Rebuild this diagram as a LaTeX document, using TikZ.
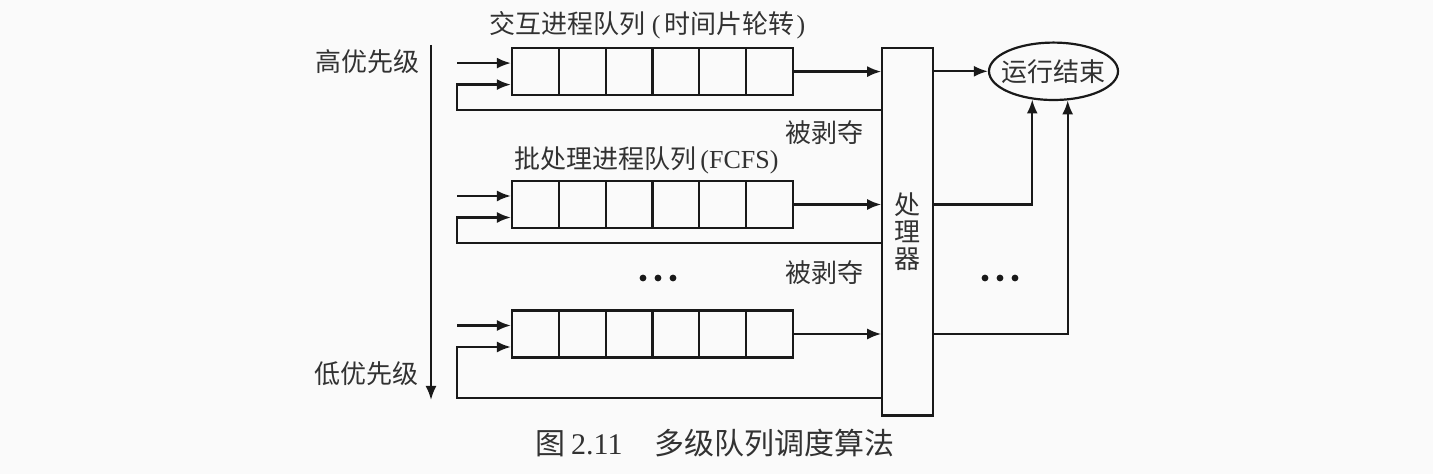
\documentclass[tikz,border=0pt]{standalone}
\usepackage{fontspec}
\setmainfont{Noto Sans CJK SC}
\newfontfamily\lat{Liberation Serif}
\usetikzlibrary{shapes.geometric, arrows.meta, positioning, calc}
\definecolor{ink1}{RGB}{25, 25, 25}
\definecolor{text1}{RGB}{50, 50, 50}
\definecolor{paper1}{RGB}{250, 250, 250}

\begin{document}
\begin{tikzpicture}[x=0.5pt, y=-0.5pt, line width=1.1pt, color=ink1,
  lbl/.style={text=text1, font=\fontsize{13pt}{13.5pt}\selectfont, inner sep=0pt},
  cell/.style={draw, minimum width=23.4pt, minimum height=23.5pt, inner sep=0pt},
  arr/.style={-{Latex[length=7pt, width=5.5pt]}}]

  \fill[paper1] (0,0) rectangle (1433,474);
  \useasboundingbox (0,0) rectangle (1433,474);

  % priority axis
  \coordinate (hi) at (431,45);
  \coordinate (lo) at (431,400);
  \draw[arr] (hi) -- (lo);
  \node[lbl] (hiTxt) at (367,62) {高优先级};
  \node[lbl] (loTxt) at (366,374) {低优先级};

  % processor and end state
  \node[draw, lbl, minimum width=25.2pt, minimum height=183.7pt, align=center] (proc) at (907.5,231.8) {处\\理\\器};
  \node[draw, ellipse, lbl, minimum width=64.5pt, minimum height=28.7pt] (done) at (1053.5,71.3) {\makebox[0pt]{运行结束}};

  % queues
  \foreach \q/\y/\fb in {1/71.6/110, 2/204.5/242.7, 3/334/398.3} {
    \foreach \c in {1,...,6}
      \node[cell] (q\q c\c) at ({512+46.8*(\c-0.5)},\y) {};
    \coordinate (new\q) at (457,\y-8.5);
    \coordinate (fb\q) at (457,\fb);
    \draw[arr] (new\q) -- (new\q -| q\q c1.west);
    \draw[arr] (fb\q -| proc.west) -- (fb\q) |- ([yshift=-6.5pt]q\q c1.west);
    \draw[arr] (q\q c6.east) -- (q\q c6.east -| proc.west);
  }

  \draw[arr] (proc.east |- done.west) -- (done.west);
  \draw[arr] (proc.east |- q2c6.east) -| (done.233);
  \draw[arr] (proc.east |- q3c6.east) -| (done.296);

  % labels
  \node[lbl] (title1) at (647.5,25) {交互进程队列\hspace{3pt}{\lat(}\hspace{2pt}时间片轮转\hspace{1pt}{\lat)}};
  \node[lbl] (title2) at (646.5,160) {批处理进程队列\hspace{2pt}{\lat(FCFS)}};
  \node[lbl] (pre1) at (824,133) {被剥夺};
  \node[lbl] (pre2) at (824,273) {被剥夺};
  \foreach \dx in {-15,0,15} {
    \fill (658+\dx,278) circle (1.7pt);
    \fill (1000+\dx,278) circle (1.7pt);
  }

  \node[lbl, anchor=west, font=\fontsize{15pt}{18pt}\selectfont] (caption) at (534,443) {图\hspace{3pt}{\lat 2.11}\hspace{16pt}多级队列调度算法};
\end{tikzpicture}
\end{document}
